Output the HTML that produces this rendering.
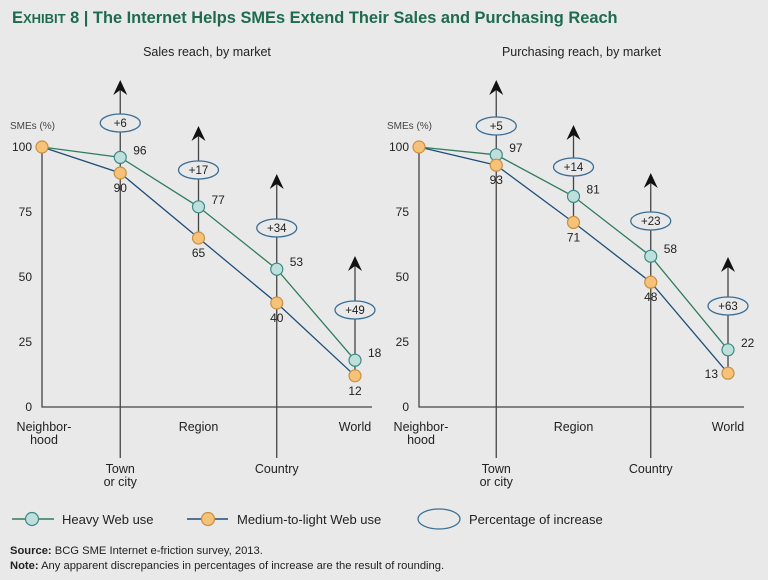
<!DOCTYPE html>
<html><head><meta charset="utf-8">
<style>
body{margin:0;background:#e9e9ea;}
svg{display:block;font-family:"Liberation Sans",sans-serif;}
</style></head>
<body>
<svg id="chart" width="768" height="580" viewBox="0 0 768 580" xmlns="http://www.w3.org/2000/svg">
<rect width="768" height="580" fill="#e9e9ea"/>
<text x="12" y="23" font-size="16.4" font-weight="bold" fill="#1e6b4e"><tspan>E</tspan><tspan font-size="13">XHIBIT</tspan> 8 | The Internet Helps SMEs Extend Their Sales and Purchasing Reach</text>
<g id="legend" font-size="13" fill="#222">
<g>
<line x1="12" y1="519" x2="54" y2="519" stroke="#2e7d5b" stroke-width="1.5"/>
<circle cx="32" cy="519" r="6.5" fill="#bfe0da" stroke="#3a8a88" stroke-width="1.2"/>
<text x="62" y="524">Heavy Web use</text></g>
<g>
<line x1="187" y1="519" x2="228" y2="519" stroke="#1f4e79" stroke-width="1.5"/>
<circle cx="208" cy="519" r="6.5" fill="#f6c27a" stroke="#c89040" stroke-width="1.2"/>
<text x="237" y="524">Medium-to-light Web use</text></g>
<g>
<ellipse cx="439" cy="519" rx="21" ry="10" fill="none" stroke="#3a6f96" stroke-width="1.3"/>
<text x="469" y="524">Percentage of increase</text></g>
</g>
<text x="10" y="554" font-size="11.2" fill="#222"><tspan font-weight="bold">Source:</tspan> BCG SME Internet e-friction survey, 2013.</text>
<text x="10" y="569" font-size="11.2" fill="#222"><tspan font-weight="bold">Note:</tspan> Any apparent discrepancies in percentages of increase are the result of rounding.</text>
</svg>
<script>
const categories = ["Neighbor-|hood","Town|or city","Region","Country","World"];
const salesHeavy = [100,96,77,53,18];
const salesMedium = [100,90,65,40,12];
const salesIncrease = ["+6","+17","+34","+49"];
const purchHeavy = [100,97,81,58,22];
const purchMedium = [100,93,71,48,13];
const purchIncrease = ["+5","+14","+23","+63"];
const yTicks = [0,25,50,75,100];

const NS="http://www.w3.org/2000/svg";
const svg=document.getElementById('chart');
function mk(tag,attrs,parent,text){const e=document.createElementNS(NS,tag);for(const k in attrs)e.setAttribute(k,attrs[k]);if(text!==undefined)e.textContent=text;(parent||svg).appendChild(e);return e;}

function drawPanel(x0,x1,axisEnd,title,heavy,medium,inc,name,arrowTips,ellY,lastMedLeft){
  const g=mk('g',{});
  
  
  const yB=407,yT=147;
  const ys=v=>yB-(v/100)*(yB-yT);
  const xs=i=>x0+i*(x1-x0)/(categories.length-1);
  const t=mk('text',{x:(x0+axisEnd)/2,y:56,'font-size':12.5,'text-anchor':'middle',fill:'#222'},g,title);
  
  
  const yl=mk('text',{x:x0-32,y:129,'font-size':10,fill:'#444'},g,'SMEs (%)');
  
  
  yTicks.forEach(v=>{
    const tk=mk('text',{x:x0-10,y:ys(v)+4,'font-size':12,'text-anchor':'end',fill:'#222'},g,String(v));
    
    
  });
  const ax=mk('path',{d:`M${x0} ${ys(100)} V${yB} H${axisEnd}`,fill:'none',stroke:'#444','stroke-width':1.3},g);
  
  
  categories.forEach((c,i)=>{
    const lines=c.split('|');
    const low=(i===1||i===3);
    const cy=low?473:431;
    const lab=mk('text',{x:xs(i)+(i===0?2:0),y:cy,'font-size':12.5,'text-anchor':'middle',fill:'#222'},g);
    
    
    lines.forEach((l,k)=>mk('tspan',{x:xs(i)+(i===0?2:0),dy:k?13:0},lab,l));
  });
  for(let i=1;i<categories.length;i++){
    const x=xs(i),tip=arrowTips[i-1];
    const bottom=(i===1||i===3)?458:ys(medium[i]);
    const ln=mk('line',{x1:x,y1:tip+6,x2:x,y2:bottom,stroke:'#444','stroke-width':1.3},g);
    
    
    const ah=mk('path',{d:`M${x} ${tip} L${x+7} ${tip+15} L${x} ${tip+10} L${x-7} ${tip+15} Z`,fill:'#111'},g);
    
    
    const el=mk('ellipse',{cx:x,cy:ellY[i-1],rx:20,ry:9,fill:'#e9e9ea',stroke:'#3a6f96','stroke-width':1.3},g);
    
    
    const et=mk('text',{x:x,y:ellY[i-1]+4,'font-size':11.5,'text-anchor':'middle',fill:'#222'},g,inc[i-1]);
    
    
  }
  const pm=mk('polyline',{points:medium.map((v,i)=>xs(i)+','+ys(v)).join(' '),fill:'none',stroke:'#1f4e79','stroke-width':1.3},g);
  
  
  const ph=mk('polyline',{points:heavy.map((v,i)=>xs(i)+','+ys(v)).join(' '),fill:'none',stroke:'#2e7d5b','stroke-width':1.3},g);
  
  
  heavy.forEach((v,i)=>{
    if(i===0)return;
    const c=mk('circle',{cx:xs(i),cy:ys(v),r:6,fill:'#bfe0da',stroke:'#3a8a88','stroke-width':1.2},g);
    
    
    const l=mk('text',{x:xs(i)+13,y:ys(v)-3,'font-size':12,fill:'#222'},g,String(v));
    
    
  });
  medium.forEach((v,i)=>{
    const c=mk('circle',{cx:xs(i),cy:ys(v),r:6,fill:'#f6c27a',stroke:'#c89040','stroke-width':1.2},g);
    
    
    if(i===0)return;
    const left=lastMedLeft&&i===medium.length-1;
    const l=mk('text',left?{x:xs(i)-10,y:ys(v)+5,'font-size':12,'text-anchor':'end',fill:'#222'}:{x:xs(i),y:ys(v)+19,'font-size':12,'text-anchor':'middle',fill:'#222'},g,String(v));
    
    
  });
}
drawPanel(42,355,372,'Sales reach, by market',salesHeavy,salesMedium,salesIncrease,'sales-panel',[80,126,174,256],[123,170,228,310],false);
drawPanel(419,728,744,'Purchasing reach, by market',purchHeavy,purchMedium,purchIncrease,'purchasing-panel',[80,125,173,257],[126,167,221,306],true);
</script>
</body></html>
